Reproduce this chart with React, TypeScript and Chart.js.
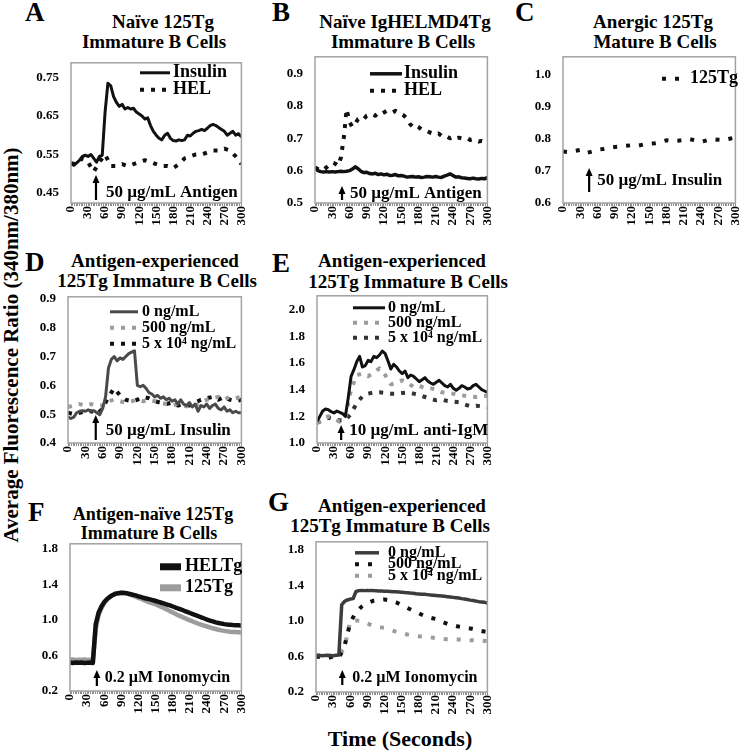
import React, { useEffect, useRef } from "react";
import { Chart, registerables } from "chart.js";

Chart.register(...registerables);

const FONT = "'Liberation Serif', 'Times New Roman', serif";

// ---------- shared axes ----------
const TIME_5 = [0, 5, 10, 15, 20, 25, 30, 35, 40, 45, 50, 55, 60, 65, 70, 75, 80, 85, 90, 95, 100, 105, 110, 115, 120, 125, 130, 135, 140, 145, 150, 155, 160, 165, 170, 175, 180, 185, 190, 195, 200, 205, 210, 215, 220, 225, 230, 235, 240, 245, 250, 255, 260, 265, 270, 275, 280, 285, 290, 295, 300];
const TIME_10 = [0, 10, 20, 30, 40, 50, 60, 70, 80, 90, 100, 110, 120, 130, 140, 150, 160, 170, 180, 190, 200, 210, 220, 230, 240, 250, 260, 270, 280, 290, 300];
const X_LABEL_VALUES = [0, 30, 60, 90, 120, 150, 180, 210, 240, 270, 300];
const X_LABELS = ["0", "30", "60", "90", "120", "150", "180", "210", "240", "270", "300"];
const X_MINOR_STEP = 3;

// ---------- Panel A ----------
const A_Y_TICKS = [0.45, 0.55, 0.65, 0.75];
const A_Y_LABELS = ["0.45", "0.55", "0.65", "0.75"];
const A_INSULIN = [
  0.527, 0.522, 0.528, 0.535, 0.545, 0.548, 0.545, 0.55, 0.54, 0.53,
  0.545, 0.548, 0.66, 0.735, 0.728, 0.7, 0.685, 0.675, 0.68, 0.668,
  0.672, 0.668, 0.67, 0.66, 0.655, 0.65, 0.642, 0.645, 0.625, 0.61,
  0.6, 0.592, 0.588, 0.6, 0.605, 0.592, 0.586, 0.585, 0.588, 0.586,
  0.588, 0.6, 0.598, 0.605, 0.61, 0.612, 0.615, 0.612, 0.618, 0.625,
  0.628, 0.625, 0.62, 0.615, 0.61, 0.6, 0.605, 0.61, 0.6, 0.604,
  0.595,
];
const A_HEL = [
  0.527, 0.525, 0.54, 0.53, 0.505, 0.53, 0.55, 0.52, 0.52, 0.525,
  0.52, 0.525, 0.53, 0.535, 0.53, 0.525, 0.52, 0.52, 0.515, 0.525,
  0.54, 0.545, 0.55, 0.55, 0.555, 0.56, 0.56, 0.565, 0.56, 0.545,
  0.525,
];

// ---------- Panel B ----------
const B_Y_TICKS = [0.5, 0.6, 0.7, 0.8, 0.9];
const B_Y_LABELS = ["0.5", "0.6", "0.7", "0.8", "0.9"];
const B_INSULIN = [
  0.61, 0.6, 0.597, 0.596, 0.597, 0.596, 0.597, 0.596, 0.597, 0.598,
  0.597, 0.598, 0.6, 0.605, 0.612, 0.606, 0.598, 0.594, 0.595, 0.591,
  0.59, 0.592, 0.588, 0.59, 0.587, 0.589, 0.585, 0.586, 0.588, 0.584,
  0.585, 0.583, 0.58, 0.581, 0.582, 0.58, 0.581, 0.579, 0.58, 0.582,
  0.581, 0.58, 0.582, 0.58, 0.579, 0.583, 0.586, 0.59, 0.585, 0.58,
  0.581, 0.578, 0.577, 0.576, 0.575, 0.577, 0.575, 0.574, 0.576, 0.575,
  0.578,
];
const B_HEL = [
  0.61, 0.605, 0.6, 0.603, 0.61, 0.618, 0.625, 0.622, 0.615, 0.64,
  0.7, 0.79, 0.75, 0.735, 0.745, 0.76, 0.765, 0.76, 0.77, 0.772,
  0.775, 0.77, 0.778, 0.775, 0.78, 0.785, 0.782, 0.78, 0.785, 0.78,
  0.775, 0.77, 0.76, 0.745, 0.735, 0.74, 0.735, 0.728, 0.725, 0.722,
  0.718, 0.715, 0.712, 0.715, 0.708, 0.71, 0.705, 0.7, 0.705, 0.7,
  0.702, 0.7, 0.698, 0.7, 0.695, 0.697, 0.693, 0.69, 0.692, 0.69,
  0.69,
];

// ---------- Panel C ----------
const C_Y_TICKS = [0.6, 0.7, 0.8, 0.9, 1.0];
const C_Y_LABELS = ["0.6", "0.7", "0.8", "0.9", "1.0"];
const C_125TG = [
  0.76, 0.758, 0.762, 0.765, 0.755, 0.76, 0.766, 0.768, 0.772, 0.774,
  0.776, 0.778, 0.78, 0.778, 0.782, 0.785, 0.786, 0.79, 0.795, 0.793,
  0.794, 0.796, 0.799, 0.795, 0.79, 0.795, 0.799, 0.797, 0.796, 0.8,
  0.804,
];

// ---------- Panel D ----------
const D_Y_TICKS = [0.4, 0.5, 0.6, 0.7, 0.8, 0.9];
const D_Y_LABELS = ["0.4", "0.5", "0.6", "0.7", "0.8", "0.9"];
const D_0 = [
  0.49, 0.485, 0.49, 0.505, 0.51, 0.512, 0.51, 0.515, 0.51, 0.512,
  0.505, 0.498, 0.52, 0.56, 0.66, 0.69, 0.7, 0.685, 0.695, 0.69,
  0.7, 0.71, 0.715, 0.72, 0.6, 0.595, 0.6, 0.59, 0.575, 0.57,
  0.56, 0.565, 0.555, 0.56, 0.55, 0.555, 0.545, 0.55, 0.535, 0.55,
  0.535, 0.53, 0.54, 0.525, 0.535, 0.51, 0.53, 0.525, 0.535, 0.52,
  0.53, 0.535, 0.52, 0.515, 0.525, 0.51, 0.515, 0.505, 0.51, 0.505,
  0.505,
];
const D_500 = [
  0.525, 0.53, 0.535, 0.53, 0.535, 0.53, 0.53, 0.545, 0.55, 0.545,
  0.54, 0.545, 0.55, 0.545, 0.55, 0.545, 0.54, 0.535, 0.53, 0.535,
  0.53, 0.525, 0.53, 0.54, 0.55, 0.555, 0.56, 0.55, 0.56, 0.555,
  0.56,
];
const D_5E4 = [
  0.505, 0.5, 0.505, 0.51, 0.51, 0.5, 0.52, 0.56, 0.59, 0.565,
  0.55, 0.545, 0.55, 0.56, 0.555, 0.545, 0.54, 0.535, 0.54, 0.53,
  0.535, 0.53, 0.54, 0.55, 0.555, 0.56, 0.55, 0.56, 0.55, 0.545,
  0.55,
];

// ---------- Panel E ----------
const E_Y_TICKS = [1.0, 1.2, 1.4, 1.6, 1.8, 2.0];
const E_Y_LABELS = ["1.0", "1.2", "1.4", "1.6", "1.8", "2.0"];
const E_0 = [
  1.16, 1.2, 1.24, 1.255, 1.25, 1.235, 1.225, 1.24, 1.23, 1.22,
  1.2, 1.34, 1.5, 1.55, 1.61, 1.65, 1.57, 1.58, 1.62, 1.61,
  1.65, 1.64, 1.66, 1.69, 1.67, 1.615, 1.555, 1.59, 1.57, 1.54,
  1.52, 1.54, 1.49, 1.51, 1.5, 1.48, 1.46, 1.475, 1.49, 1.465,
  1.45, 1.44, 1.455, 1.47, 1.45, 1.43, 1.42, 1.44, 1.41, 1.395,
  1.41, 1.43, 1.42, 1.405, 1.41, 1.43, 1.44, 1.42, 1.4, 1.39,
  1.38,
];
const E_500 = [
  1.15, 1.18, 1.2, 1.18, 1.16, 1.2, 1.4, 1.51, 1.52, 1.5,
  1.53, 1.56, 1.51, 1.44, 1.45, 1.47, 1.45, 1.42, 1.43, 1.41,
  1.41, 1.4, 1.38, 1.375, 1.37, 1.36, 1.355, 1.35, 1.345, 1.35,
  1.355,
];
const E_5E4 = [
  1.15, 1.17, 1.19, 1.18, 1.17, 1.17, 1.22, 1.3, 1.35, 1.37,
  1.38, 1.38, 1.375, 1.37, 1.37, 1.375, 1.38, 1.37, 1.36, 1.345,
  1.33, 1.32, 1.325, 1.315, 1.31, 1.305, 1.29, 1.275, 1.28, 1.275,
  1.27,
];

// ---------- Panel F ----------
const FG_Y_TICKS = [0.2, 0.6, 1.0, 1.4, 1.8];
const FG_Y_LABELS = ["0.2", "0.6", "1.0", "1.4", "1.8"];
const F_HELTG = [
  0.52, 0.515, 0.52, 0.518, 0.52, 0.515, 0.518, 0.52, 0.515, 0.95,
  1.08, 1.15, 1.2, 1.235, 1.26, 1.28, 1.295, 1.3, 1.305, 1.303,
  1.298, 1.29, 1.282, 1.275, 1.265, 1.255, 1.245, 1.238, 1.23, 1.222,
  1.212, 1.202, 1.192, 1.182, 1.172, 1.162, 1.15, 1.138, 1.127, 1.115,
  1.102, 1.09, 1.077, 1.065, 1.052, 1.04, 1.027, 1.015, 1.003, 0.992,
  0.982, 0.972, 0.965, 0.958, 0.952, 0.948, 0.945, 0.942, 0.94, 0.938,
  0.935,
];
const F_125TG = [
  0.55, 0.555, 0.548, 0.552, 0.55, 0.555, 0.548, 0.552, 0.55, 0.9,
  1.05, 1.13, 1.19, 1.23, 1.26, 1.28, 1.295, 1.303, 1.305, 1.302,
  1.295, 1.285, 1.272, 1.26, 1.248, 1.236, 1.222, 1.208, 1.195, 1.185,
  1.175, 1.16, 1.145, 1.13, 1.115, 1.098, 1.082, 1.066, 1.05, 1.036,
  1.022, 1.008, 0.995, 0.982, 0.968, 0.956, 0.945, 0.935, 0.925, 0.915,
  0.905, 0.897, 0.889, 0.882, 0.876, 0.871, 0.867, 0.864, 0.862, 0.86,
  0.858,
];

// ---------- Panel G ----------
const G_0 = [
  0.61, 0.612, 0.608, 0.61, 0.612, 0.61, 0.608, 0.612, 0.615, 1.18,
  1.22, 1.235, 1.245, 1.25, 1.33, 1.34, 1.342, 1.34, 1.342, 1.34,
  1.34, 1.338, 1.336, 1.335, 1.333, 1.332, 1.33, 1.328, 1.326, 1.324,
  1.322, 1.318, 1.315, 1.312, 1.31, 1.306, 1.303, 1.3, 1.298, 1.295,
  1.292, 1.289, 1.286, 1.283, 1.28, 1.276, 1.272, 1.268, 1.264, 1.26,
  1.256, 1.25, 1.245, 1.24, 1.233, 1.228, 1.222, 1.216, 1.212, 1.208,
  1.2,
];
const G_500 = [
  0.6, 0.59, 0.58, 0.6, 0.58, 0.72, 0.98, 1.1, 1.16, 1.2,
  1.225, 1.235, 1.24, 1.23, 1.21, 1.175, 1.145, 1.115, 1.085, 1.055,
  1.035, 1.02, 0.99, 0.965, 0.95, 0.935, 0.925, 0.915, 0.9, 0.885,
  0.875,
];
const G_5E4 = [
  0.61, 0.605, 0.61, 0.605, 0.61, 0.7, 1.0, 1.005, 1.0, 0.97,
  0.945, 0.93, 0.92, 0.9, 0.878, 0.86, 0.846, 0.835, 0.826, 0.822,
  0.815, 0.805, 0.798, 0.792, 0.79, 0.79, 0.788, 0.782, 0.78, 0.778,
  0.772,
];

// ---------- styling / layout ----------
const BLACK = "#111111";
const DARK = "#4a4a4a";
const LIGHT = "#9c9c9c";
const DOTS = [4, 7];
const SPARSE_DOTS = [4, 9];

const Y_AXIS_W = 40;
const PAD_T = 10;
const PAD_R = 10;
const X_AXIS_H = 30;

type Series = { label: string; time: number[]; values: number[]; color: string; width: number; dash?: number[] };
type Panel = {
  box: [number, number, number, number];
  yMin: number;
  yMax: number;
  yTicks: number[];
  yLabels: string[];
  series: Series[];
  legend: { x: number; w: number; textX: number; y0: number; dy: number; size: number; lineWidth?: number };
  note: { t: number; text: string; a0: number; a1: number; textDy: number; gap: number; size: number };
};

const PANELS: Panel[] = [
  {
    box: [71, 61, 247, 203], yMin: 0.424, yMax: 0.788, yTicks: A_Y_TICKS, yLabels: A_Y_LABELS,
    series: [
      { label: "Insulin", time: TIME_5, values: A_INSULIN, color: BLACK, width: 3 },
      { label: "HEL", time: TIME_10, values: A_HEL, color: BLACK, width: 4, dash: DOTS },
    ],
    legend: { x: 69, w: 30, textX: 102, y0: 10, dy: 17, size: 18 },
    note: { t: 44, text: "50 µg/mL Antigen", a0: 3, a1: 28, textDy: 10, gap: 10, size: 17 },
  },
  {
    box: [315, 55, 493, 203], yMin: 0.5, yMax: 0.952, yTicks: B_Y_TICKS, yLabels: B_Y_LABELS,
    series: [
      { label: "Insulin", time: TIME_5, values: B_INSULIN, color: BLACK, width: 3.5 },
      { label: "HEL", time: TIME_5, values: B_HEL, color: BLACK, width: 4, dash: DOTS },
    ],
    legend: { x: 55, w: 32, textX: 89, y0: 17, dy: 17, size: 18 },
    note: { t: 47, text: "50 µg/mL Antigen", a0: 3, a1: 17, textDy: 9, gap: 8, size: 17 },
  },
  {
    box: [563, 55, 741, 203], yMin: 0.6, yMax: 1.055, yTicks: C_Y_TICKS, yLabels: C_Y_LABELS,
    series: [{ label: "125Tg", time: TIME_10, values: C_125TG, color: BLACK, width: 4, dash: SPARSE_DOTS }],
    legend: { x: 99, w: 26, textX: 127, y0: 22, dy: 0, size: 18 },
    note: { t: 45.5, text: "50 µg/mL Insulin", a0: 11, a1: 35, textDy: 22, gap: 8, size: 17 },
  },
  {
    box: [68, 295, 247, 443], yMin: 0.4, yMax: 0.907, yTicks: D_Y_TICKS, yLabels: D_Y_LABELS,
    series: [
      { label: "0 ng/mL", time: TIME_5, values: D_0, color: DARK, width: 3 },
      { label: "500 ng/mL", time: TIME_10, values: D_500, color: LIGHT, width: 4, dash: DOTS },
      { label: "5 x 10⁴ ng/mL", time: TIME_10, values: D_5E4, color: BLACK, width: 4, dash: DOTS },
    ],
    legend: { x: 42, w: 28, textX: 74, y0: 15, dy: 16, size: 16 },
    note: { t: 48, text: "50 µg/mL Insulin", a0: 3, a1: 28, textDy: 12, gap: 10, size: 17 },
  },
  {
    box: [317, 294, 493, 443], yMin: 1.0, yMax: 2.104, yTicks: E_Y_TICKS, yLabels: E_Y_LABELS,
    series: [
      { label: "0 ng/mL", time: TIME_5, values: E_0, color: BLACK, width: 3 },
      { label: "500 ng/mL", time: TIME_10, values: E_500, color: LIGHT, width: 4, dash: DOTS },
      { label: "5 x 10⁴ ng/mL", time: TIME_10, values: E_5E4, color: "#333333", width: 4, dash: DOTS },
    ],
    legend: { x: 36, w: 32, textX: 71, y0: 12, dy: 15, size: 16 },
    note: { t: 42.5, text: "10 µg/mL anti-IgM", a0: 3, a1: 18, textDy: 12, gap: 8, size: 17 },
  },
  {
    box: [70, 542, 247, 691], yMin: 0.2, yMax: 1.855, yTicks: FG_Y_TICKS, yLabels: FG_Y_LABELS,
    series: [
      { label: "HELTg", time: TIME_5, values: F_HELTG, color: BLACK, width: 4.5 },
      { label: "125Tg", time: TIME_5, values: F_125TG, color: LIGHT, width: 4.5 },
    ],
    legend: { x: 90, w: 21, textX: 115, y0: 23, dy: 21, size: 18, lineWidth: 7 },
    note: { t: 47, text: "0.2 µM Ionomycin", a0: 5, a1: 21, textDy: 13, gap: 8, size: 16 },
  },
  {
    box: [316, 540, 493, 692], yMin: 0.2, yMax: 1.889, yTicks: FG_Y_TICKS, yLabels: FG_Y_LABELS,
    series: [
      { label: "0 ng/mL", time: TIME_5, values: G_0, color: "#3c3c3c", width: 3.5 },
      { label: "500 ng/mL", time: TIME_10, values: G_500, color: BLACK, width: 4, dash: SPARSE_DOTS },
      { label: "5 x 10⁴ ng/mL", time: TIME_10, values: G_5E4, color: LIGHT, width: 4, dash: SPARSE_DOTS },
    ],
    legend: { x: 39, w: 24, textX: 72, y0: 11, dy: 11.5, size: 16 },
    note: { t: 46, text: "0.2 µM Ionomycin", a0: 7, a1: 22, textDy: 14, gap: 10, size: 16 },
  },
];

const LETTERS = [
  { t: "A", x: 25, b: 22 }, { t: "B", x: 272, b: 22 }, { t: "C", x: 515, b: 22 },
  { t: "D", x: 25, b: 272 }, { t: "E", x: 272, b: 273 }, { t: "F", x: 28, b: 522 }, { t: "G", x: 268, b: 512 },
];

const TITLES = [
  { t: "Naïve 125Tg", cx: 163, b: 28, s: 19 },
  { t: "Immature B Cells", cx: 154, b: 48, s: 19 },
  { t: "Naïve IgHELMD4Tg", cx: 405, b: 28, s: 19 },
  { t: "Immature B Cells", cx: 403, b: 48, s: 19 },
  { t: "Anergic 125Tg", cx: 653, b: 28, s: 19 },
  { t: "Mature B Cells", cx: 655, b: 48, s: 19 },
  { t: "Antigen-experienced", cx: 155, b: 267, s: 19 },
  { t: "125Tg Immature B Cells", cx: 157, b: 287, s: 19 },
  { t: "Antigen-experienced", cx: 402, b: 267, s: 19 },
  { t: "125Tg Immature B Cells", cx: 408, b: 288, s: 19 },
  { t: "Antigen-naïve 125Tg", cx: 153, b: 520, s: 18 },
  { t: "Immature B Cells", cx: 149, b: 539, s: 18 },
  { t: "Antigen-experienced", cx: 402, b: 512, s: 19 },
  { t: "125Tg Immature B Cells", cx: 390, b: 532, s: 19 },
];

const decorPlugin = {
  id: "panelDecor",
  afterDatasetsDraw(chart: any, _args: any, opts: any) {
    const { ctx, chartArea: a } = chart;
    ctx.save();
    // plot frame
    ctx.strokeStyle = "#a3a3a3";
    ctx.lineWidth = 1.5;
    ctx.setLineDash([]);
    ctx.strokeRect(a.left, a.top, a.right - a.left, a.bottom - a.top);
    // legend inside plot
    const lg = opts.legend;
    chart.data.datasets.forEach((ds: any, i: number) => {
      const y = a.top + lg.y0 + i * lg.dy;
      ctx.beginPath();
      ctx.setLineDash(ds.borderDash || []);
      ctx.lineCap = "butt";
      ctx.lineWidth = lg.lineWidth ?? ds.borderWidth;
      ctx.strokeStyle = ds.borderColor;
      ctx.moveTo(a.left + lg.x, y);
      ctx.lineTo(a.left + lg.x + lg.w, y);
      ctx.stroke();
      ctx.setLineDash([]);
      ctx.fillStyle = "#000";
      ctx.font = `bold ${lg.size}px ${FONT}`;
      ctx.textBaseline = "middle";
      ctx.textAlign = "left";
      ctx.fillText(ds.label, a.left + lg.textX, y);
    });
    // stimulus arrow + text
    const n = opts.note;
    const x = chart.scales.x.getPixelForValue(n.t);
    const yBot = a.bottom - n.a0;
    const yTop = a.bottom - n.a1;
    ctx.strokeStyle = "#000";
    ctx.fillStyle = "#000";
    ctx.lineWidth = 2.2;
    ctx.beginPath();
    ctx.moveTo(x, yBot);
    ctx.lineTo(x, yTop + 6);
    ctx.stroke();
    ctx.beginPath();
    ctx.moveTo(x, yTop);
    ctx.lineTo(x - 3.5, yTop + 8);
    ctx.lineTo(x + 3.5, yTop + 8);
    ctx.closePath();
    ctx.fill();
    ctx.font = `bold ${n.size}px ${FONT}`;
    ctx.textBaseline = "middle";
    ctx.textAlign = "left";
    ctx.fillText(n.text, x + n.gap, a.bottom - n.textDy);
    ctx.restore();
  },
};

function PanelChart({ panel }: { panel: Panel }) {
  const ref = useRef<HTMLCanvasElement>(null);
  const [L, T, R, B] = panel.box;
  const w = R - L + Y_AXIS_W + PAD_R;
  const h = B - T + PAD_T + X_AXIS_H;

  useEffect(() => {
    const minorTicks: number[] = [];
    for (let v = 0; v <= 300; v += X_MINOR_STEP) minorTicks.push(v);
    const tickFont = { family: FONT, weight: "bold" as const, size: 13 };
    const chart = new Chart(ref.current as HTMLCanvasElement, {
      type: "line",
      data: {
        datasets: panel.series.map((s) => ({
          label: s.label,
          data: s.time.map((t, i) => ({ x: t, y: s.values[i] })),
          borderColor: s.color,
          backgroundColor: s.color,
          borderWidth: s.width,
          borderDash: s.dash || [],
          borderCapStyle: "butt" as const,
          borderJoinStyle: "round" as const,
          pointRadius: 0,
          fill: false,
          tension: 0,
        })),
      },
      options: {
        animation: false,
        responsive: false,
        maintainAspectRatio: false,
        devicePixelRatio: 1,
        events: [],
        layout: { padding: { top: PAD_T, right: PAD_R, left: 0, bottom: 0 } },
        plugins: {
          legend: { display: false },
          tooltip: { enabled: false },
          title: { display: false },
          panelDecor: { legend: panel.legend, note: panel.note },
        } as any,
        scales: {
          x: {
            type: "linear",
            min: 0,
            max: 300,
            afterBuildTicks: (s: any) => {
              s.ticks = minorTicks.map((v) => ({ value: v }));
            },
            afterFit: (s: any) => {
              s.height = X_AXIS_H;
            },
            grid: { drawOnChartArea: false, drawTicks: true, tickLength: 3, color: "#8f8f8f", lineWidth: 1 },
            border: { display: false },
            ticks: {
              autoSkip: false,
              minRotation: 90,
              maxRotation: 90,
              padding: 0,
              color: "#000",
              font: tickFont,
              callback: (v: any) => {
                const k = X_LABEL_VALUES.indexOf(Number(v));
                return k >= 0 ? X_LABELS[k] : "";
              },
            },
          },
          y: {
            type: "linear",
            min: panel.yMin,
            max: panel.yMax,
            afterBuildTicks: (s: any) => {
              s.ticks = panel.yTicks.map((v) => ({ value: v }));
            },
            afterFit: (s: any) => {
              s.width = Y_AXIS_W;
            },
            grid: { display: false },
            border: { display: false },
            ticks: {
              padding: 4,
              color: "#000",
              font: tickFont,
              callback: (_v: any, i: number) => panel.yLabels[i],
            },
          },
        },
      },
      plugins: [decorPlugin],
    });
    return () => chart.destroy();
  }, []);

  return (
    <canvas
      ref={ref}
      width={w}
      height={h}
      style={{ position: "absolute", left: L - Y_AXIS_W, top: T - PAD_T, width: w, height: h }}
    />
  );
}

function Txt({ x, b, size, text, center }: { x: number; b: number; size: number; text: string; center?: boolean }) {
  return (
    <div
      style={{
        position: "absolute",
        left: x,
        top: b - 0.8375 * size,
        fontFamily: FONT,
        fontWeight: "bold",
        fontSize: size,
        lineHeight: `${size}px`,
        whiteSpace: "nowrap",
        color: "#000",
        transform: center ? "translateX(-50%)" : undefined,
      }}
    >
      {text}
    </div>
  );
}

export default function App() {
  return (
    <div style={{ position: "fixed", left: 0, top: 0, width: 747, height: 751, background: "#fff", overflow: "hidden" }}>
      {LETTERS.map((l) => (
        <Txt key={l.t} x={l.x} b={l.b} size={27} text={l.t} />
      ))}
      {TITLES.map((t, i) => (
        <Txt key={i} x={t.cx} b={t.b} size={t.s} text={t.t} center />
      ))}
      {PANELS.map((p, i) => (
        <PanelChart key={i} panel={p} />
      ))}
      <div
        style={{
          position: "absolute",
          left: 11,
          top: 345,
          transform: "translate(-50%, -50%) rotate(-90deg)",
          fontFamily: FONT,
          fontWeight: "bold",
          fontSize: 21,
          lineHeight: "21px",
          whiteSpace: "nowrap",
        }}
      >
        Average Fluorescence Ratio (340nm/380nm)
      </div>
      <Txt x={400} b={746} size={22} text="Time (Seconds)" center />
    </div>
  );
}
